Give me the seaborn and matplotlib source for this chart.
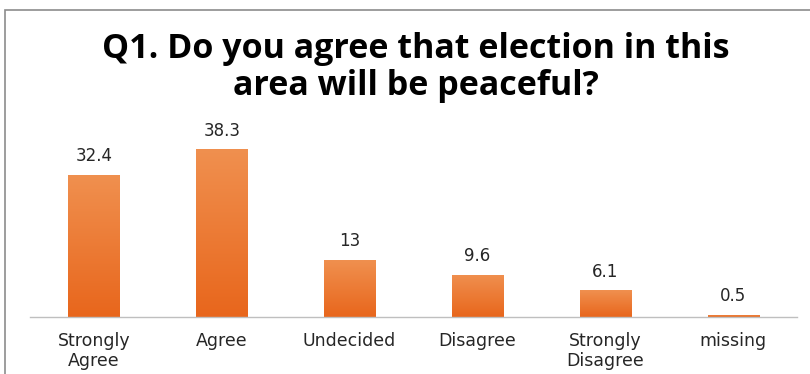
import numpy as np
import pandas as pd
import matplotlib
matplotlib.use("Agg")
import matplotlib.pyplot as plt
import seaborn as sns
from matplotlib.patches import Rectangle
from matplotlib.colors import LinearSegmentedColormap

categories = ["Strongly\nAgree", "Agree", "Undecided", "Disagree", "Strongly\nDisagree", "missing"]
values = [32.4, 38.3, 13, 9.6, 6.1, 0.5]
value_labels = ["32.4", "38.3", "13", "9.6", "6.1", "0.5"]
title = "Q1. Do you agree that election in this\narea will be peaceful?"

sns.set_style("white")
plt.rcParams['font.family'] = ['DejaVu Sans']

fig = plt.figure(figsize=(8.1, 3.74), dpi=100)
ax = fig.add_axes([30/810, 1-317/374, (797-30)/810, 197/374])

df = pd.DataFrame({"cat": categories, "val": values})
sns.barplot(data=df, x="cat", y="val", ax=ax, color="#ED7B33", width=0.4,
            saturation=1, edgecolor="none")

cmap = LinearSegmentedColormap.from_list("g", ["#E8661C", "#F0904F"])
grad = np.linspace(0, 1, 256).reshape(-1, 1)
for p in ax.patches:
    x0, y0 = p.get_x(), p.get_y()
    w, h = p.get_width(), p.get_height()
    im = ax.imshow(grad, cmap=cmap, aspect="auto", origin="lower",
                   extent=[x0, x0 + w, y0, y0 + h], zorder=p.get_zorder() + 0.1)
    im.set_clip_path(p)

ax.set_xlim(-0.5, 5.5)
ax.set_ylim(0, 45)
for i, (v, lab) in enumerate(zip(values, value_labels)):
    ax.annotate(lab, (i, v), xytext=(0, 7), textcoords="offset points",
                ha="center", va="bottom", fontsize=12, color="#262626")

ax.set_xlabel("")
ax.set_ylabel("")
ax.set_yticks([])
ax.tick_params(axis="x", length=0, pad=11, labelsize=12.5, labelcolor="#262626")
for s in ["top", "right", "left"]:
    ax.spines[s].set_visible(False)
ax.spines["bottom"].set_color("#BFBFBF")
ax.spines["bottom"].set_linewidth(1.0)
for t in ax.get_xticklabels():
    t.set_linespacing(1.12)
    t.set_verticalalignment("top")

fig.text(416/810, 1-32/374, title, ha="center", va="top", fontsize=24.5,
         fontweight="bold", family=["Open Sans", "DejaVu Sans"], color="#000000",
         linespacing=1.1)

fig.patches.append(Rectangle((5/810, -0.1), 1.2, 1-10/374+0.1, transform=fig.transFigure,
                             fill=False, edgecolor="#8C8C8C", linewidth=1.2))

fig.savefig("out.png", dpi=100)
